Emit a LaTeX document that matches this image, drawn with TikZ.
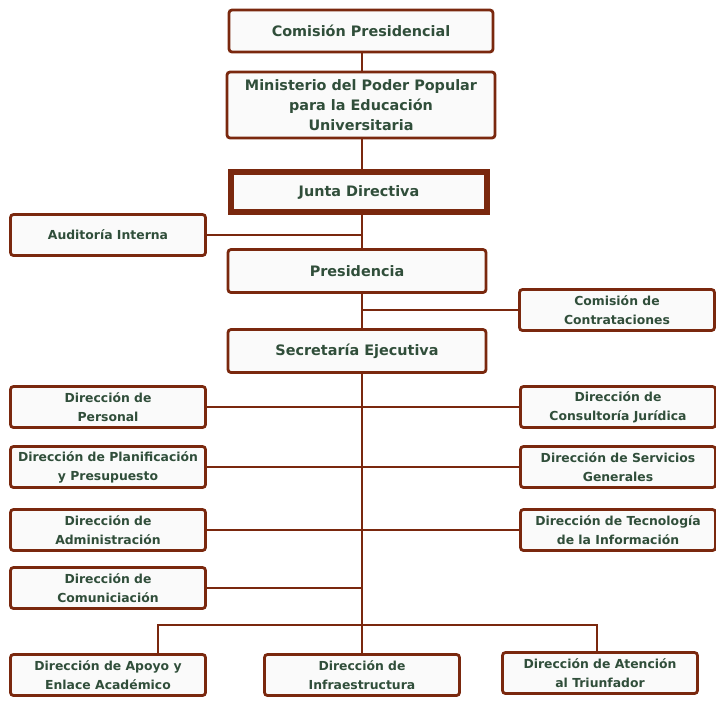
\documentclass[tikz,border=0pt]{standalone}
\usepackage{fontspec}
\setmainfont{DejaVu Sans}
\usepackage{tikz}
\usetikzlibrary{positioning,backgrounds}
\definecolor{orgbrown}{RGB}{122,40,14}
\definecolor{orgtext}{RGB}{48,78,58}
\definecolor{orgfill}{RGB}{250,250,250}

\tikzset{
  unit/.style={draw=orgbrown, line width=2.8pt, rounded corners=3pt, fill=orgfill,
    text=orgtext, font=\bfseries\fontsize{12.4}{19}\selectfont, align=center,
    minimum width=195pt, minimum height=41pt, inner sep=0pt},
  topunit/.style={unit, minimum width=264pt, minimum height=43pt,
    font=\bfseries\fontsize{14.4}{20}\selectfont},
  link/.style={draw=orgbrown, line width=2.8pt}
}

\begin{document}
\begin{tikzpicture}[x=1pt,y=-1pt]
\useasboundingbox (0,0) rectangle (716,702);

% central column
\node[topunit, minimum height=42pt] (comision) at (361,31) {Comisión Presidencial};
\node[topunit, minimum width=268pt, minimum height=66pt] (ministerio) at (361,105)
  {Ministerio del Poder Popular\\para la Educación\\Universitaria};
\node[topunit, line width=6pt, rounded corners=0pt, minimum width=256pt, minimum height=40pt] (junta) at (359,192) {Junta Directiva};
\node[topunit, minimum width=258pt] (presidencia) at (357,271) {Presidencia};
\node[topunit, minimum width=258pt] (secretaria) at (357,351) {Secretaría Ejecutiva};

% staff units
\node[unit] (auditoria) at (108,235) {Auditoría Interna};
\node[unit] (contrat) at (617,310) {Comisión de\\Contrataciones};

% direcciones
\node[unit] (personal) at (108,407) {Dirección de\\Personal};
\node[unit] (juridica) at (618,407) {Dirección de\\Consultoría Jurídica};
\node[unit] (planif) at (108,467) {Dirección de Planificación\\y Presupuesto};
\node[unit] (servicios) at (618,467) {Dirección de Servicios\\Generales};
\node[unit] (admin) at (108,530) {Dirección de\\Administración};
\node[unit] (tecno) at (618,530) {Dirección de Tecnología\\de la Información};
\node[unit] (comunic) at (108,588) {Dirección de\\Comuniciación};
\node[unit] (apoyo) at (108,675) {Dirección de Apoyo y\\Enlace Académico};
\node[unit] (infra) at (362,675) {Dirección de\\Infraestructura};
\node[unit] (atencion) at (600,673) {Dirección de Atención\\al Triunfador};

\coordinate (bus) at (362,625);

\begin{scope}[on background layer]
\path[link] (comision.south -| bus) -- (ministerio.north -| bus);
\path[link] (ministerio.south -| bus) -- (junta.north -| bus);
\path[link] (junta.south -| bus) -- (presidencia.north -| bus);
\path[link] (presidencia.south -| bus) -- (secretaria.north -| bus);
\path[link] (secretaria.south -| bus) -- (bus);
\path[link] (auditoria.east) -- (auditoria -| bus);
\path[link] (contrat.west) -- (contrat -| bus);
\path[link] (personal.east) -- (juridica.west);
\path[link] (planif.east) -- (servicios.west);
\path[link] (admin.east) -- (tecno.west);
\path[link] (comunic.east) -- (comunic -| bus);
\path[link] ([xshift=50pt]apoyo.north) |- (bus) -| ([xshift=-3pt]atencion.north);
\path[link] (bus) -- (infra.north);
\end{scope}
\end{tikzpicture}
\end{document}
